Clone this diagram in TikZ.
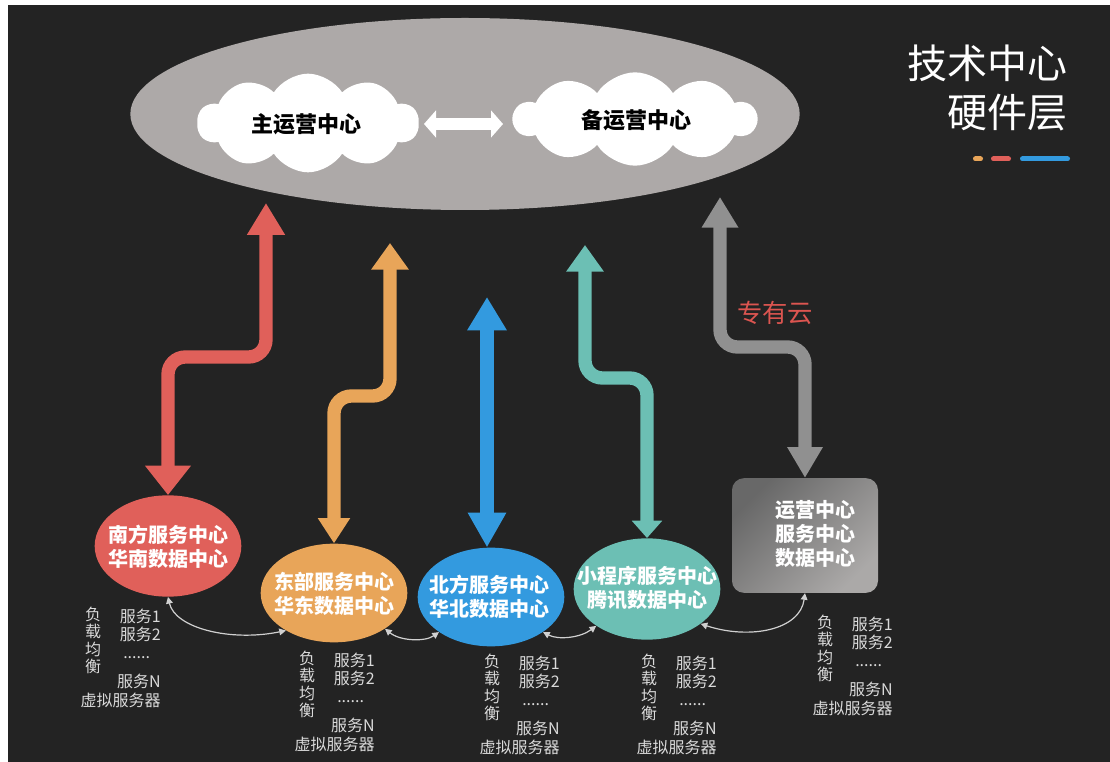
\documentclass[tikz,border=0pt]{standalone}
\usepackage{fontspec}
\setmainfont{Noto Sans CJK SC}
\usetikzlibrary{arrows.meta,shapes.symbols,shapes.geometric}
\definecolor{bgc}{HTML}{232323}
\definecolor{hubc}{HTML}{ADA9A8}
\definecolor{cRed}{HTML}{E0605A}
\definecolor{cOrange}{HTML}{E8A559}
\definecolor{cBlue}{HTML}{339ADF}
\definecolor{cTeal}{HTML}{6CBFB4}
\definecolor{cGrey}{HTML}{909090}
\definecolor{boxa}{HTML}{686868}
\definecolor{boxb}{HTML}{ABA9A8}
\definecolor{lblc}{HTML}{DADADA}
\definecolor{conc}{HTML}{D0D0D0}
\definecolor{yunc}{HTML}{DC5550}
\tikzset{
  blk/.style={line width=10pt, rounded corners=13pt},
  cen/.style={text=white, font=\bfseries\fontsize{15}{18}\selectfont, align=center},
  lbl/.style={text=lblc, font=\fontsize{12}{14}\selectfont, inner sep=0pt},
  thinarr/.style={draw=conc, line width=0.9pt, {Triangle[length=5pt,width=5pt]}-{Triangle[length=5pt,width=5pt]}},
  dc/.style={ellipse, inner sep=0pt, minimum width=110pt, minimum height=75pt},
  cl/.style={cloud, cloud puffs=10, cloud puff arc=115, aspect=2.3, fill=white, inner sep=0pt},
  cltext/.style={text=black, font=\bfseries\fontsize{16.5}{20}\selectfont, inner sep=0pt},
}
\newcommand\lbgrp[3]{%
  \begin{scope}[shift={(#1,#2)}]
    \node[lbl] (#3a) at (0,0) {负};
    \node[lbl] (#3b) at (0,17.5) {载};
    \node[lbl] (#3c) at (0,35) {均};
    \node[lbl] (#3d) at (0,52.5) {衡};
    \node[lbl, anchor=east] (#3e) at (68,2) {服务1};
    \node[lbl, anchor=east] (#3f) at (68,20) {服务2};
    \node[lbl, anchor=base west] (#3g) at (30,44) {......};
    \node[lbl, anchor=east] (#3h) at (68,67.5) {服务N};
    \node[lbl, anchor=east] (#3i) at (68,86) {虚拟服务器};
  \end{scope}}
\begin{document}
\begin{tikzpicture}[x=0.75pt,y=-0.75pt]
\useasboundingbox (0,0) rectangle (1110,762);
\fill[white] (0,0) rectangle (1110,762);
\fill[bgc] (8,5) rectangle (1110,762);

% hub ellipse and clouds
\node[ellipse, fill=hubc, inner sep=0pt, minimum width=502pt, minimum height=144pt] (hub) at (465,114) {};
\node[cl, minimum width=166pt, minimum height=74pt] (c1) at (308,123) {};
\node[cltext] (c1t) at (306,124) {主运营中心};
\node[cl, minimum width=182pt, minimum height=70pt] (c2) at (635,119) {};
\node[cltext] (c2t) at (636,120) {备运营中心};
\coordinate (da1) at (424,124);
\coordinate (da2) at (503,124);
\draw[white, line width=8.5pt, {Triangle[length=9pt,width=20pt]}-{Triangle[length=9pt,width=20pt]}] (da1) -- (da2);

% title
\node[anchor=east, text=white, font=\fontsize{30}{36}\selectfont, inner sep=0pt] (t1) at (1068,63) {技术中心};
\node[anchor=east, text=white, font=\fontsize{30}{36}\selectfont, inner sep=0pt] (t2) at (1068,113) {硬件层};
\coordinate (d1a) at (975.5,159); \coordinate (d1b) at (980.5,159);
\coordinate (d2a) at (993.5,159); \coordinate (d2b) at (1008.5,159);
\coordinate (d3a) at (1022.5,159); \coordinate (d3b) at (1067.5,159);
\draw[cOrange, line width=3.75pt, line cap=round] (d1a) -- (d1b);
\draw[cRed, line width=3.75pt, line cap=round] (d2a) -- (d2b);
\draw[cBlue, line width=3.75pt, line cap=round] (d3a) -- (d3b);

% lower nodes
\node[dc, fill=cRed, minimum height=76pt] (red) at (168,546) {};
\node[dc, fill=cOrange, minimum height=74pt] (orange) at (334,593) {};
\node[dc, fill=cBlue, minimum height=74pt] (blue) at (491,597) {};
\node[dc, fill=cTeal, minimum height=76pt] (teal) at (647,589) {};
\node[rounded corners=9pt, minimum width=109.5pt, minimum height=86pt, inner sep=0pt,
  top color=boxa, bottom color=boxb, shading angle=45] (box) at (805,535.5) {};
\node[cen] (redt) at (168,547) {南方服务中心\\华南数据中心};
\node[cen] (oranget) at (334,594) {东部服务中心\\华东数据中心};
\node[cen] (bluet) at (489,597) {北方服务中心\\华北数据中心};
\node[cen] (tealt) at (647,588) {小程序服务中心\\腾讯数据中心};
\node[cen] (boxt) at (815,534) {运营中心\\服务中心\\数据中心};

% big arrows
\coordinate (rtop) at (266,203);
\coordinate (otop) at (390,243);
\coordinate (btop) at (487,297);
\coordinate (ttop) at (585,245);
\coordinate (gtop) at (720,197);
\draw[blk, cRed, {Triangle[length=24pt,width=27pt]}-{Triangle[length=22pt,width=33pt]}]
  (rtop) -- (266,357) -| (red.north);
\draw[blk, cOrange, {Triangle[length=20pt,width=27pt]}-{Triangle[length=19pt,width=23pt]}]
  (otop) -- (390,396) -| (orange.north);
\draw[blk, cBlue, {Triangle[length=25pt,width=28pt]}-{Triangle[length=26pt,width=27pt]}]
  (btop) -- (btop |- blue.north);
\draw[blk, cTeal, {Triangle[length=20pt,width=27pt]}-{Triangle[length=13pt,width=22pt]}]
  (ttop) -- (585,378) -| (teal.north);
\draw[blk, cGrey, {Triangle[length=23pt,width=26pt]}-{Triangle[length=23pt,width=25pt]}]
  (gtop) -- (720,347) -| (box.north);
\node[text=yunc, font=\fontsize{19}{22}\selectfont, inner sep=0pt] (yun) at (775,313) {专有云};

% thin connectors
\draw[thinarr] (red.south) .. controls (175,628) and (230,642) .. (orange.218);
\draw[thinarr] (orange.-35) .. controls (400,641) and (425,642) .. (blue.214);
\draw[thinarr] (blue.-34) .. controls (558,640) and (580,638) .. (teal.216);
\draw[thinarr] (teal.-33) .. controls (750,640) and (800,630) .. (box.south);

% labels
\lbgrp{93}{614}{ga}
\lbgrp{307}{658}{gb}
\lbgrp{492}{661}{gc}
\lbgrp{649}{661}{gd}
\lbgrp{825}{622}{ge}
\end{tikzpicture}
\end{document}
